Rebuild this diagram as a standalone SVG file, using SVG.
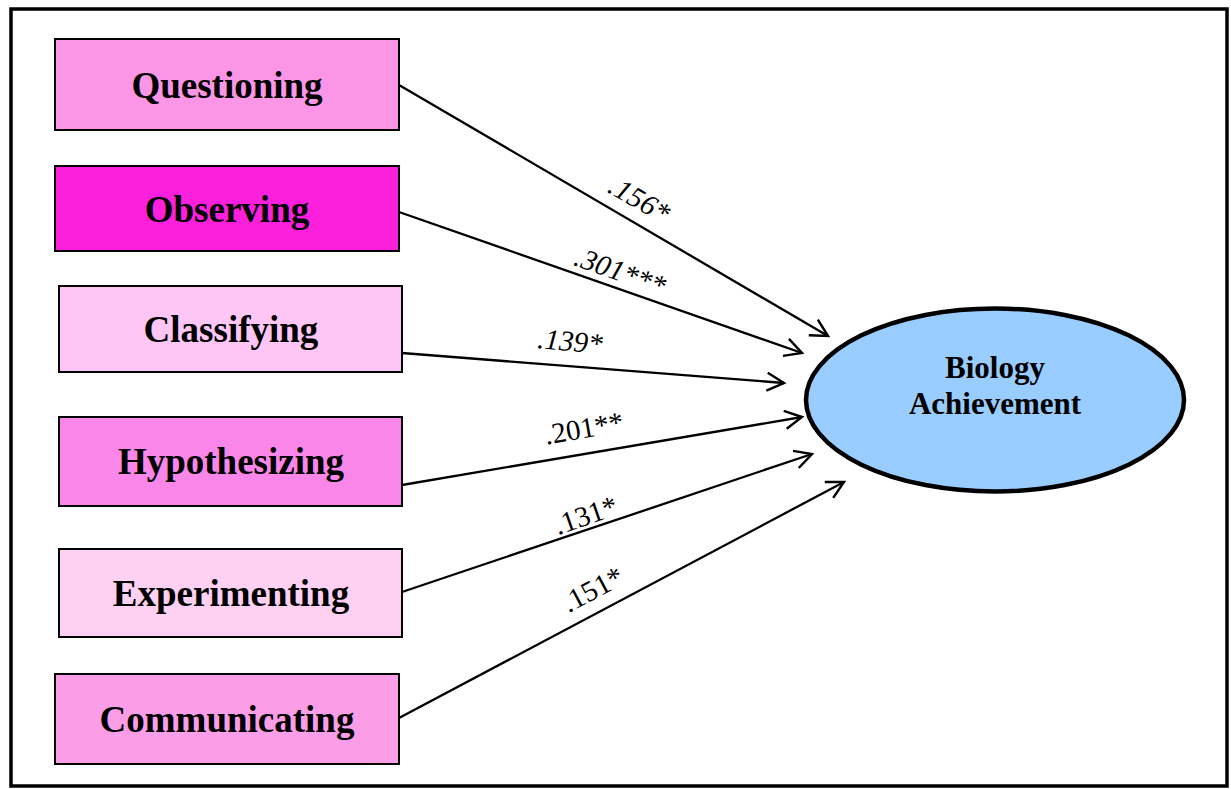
<svg xmlns="http://www.w3.org/2000/svg" width="1231" height="789" viewBox="0 0 1231 789">
<style>
.box{stroke:#000;stroke-width:2}
.bt{font-family:"Liberation Serif",serif;font-weight:bold;font-size:37px;text-anchor:middle}
.et{font-family:"Liberation Serif",serif;font-weight:bold;font-size:31px;text-anchor:middle}
.lab{font-family:"Liberation Serif",serif;font-size:29px;text-anchor:middle}
.it{font-style:italic}
.con line{stroke:#000;stroke-width:2.3;marker-end:url(#arr)}
</style>
<defs>
<marker id="arr" markerUnits="userSpaceOnUse" markerWidth="24" markerHeight="24" viewBox="-20 -12 24 24" refX="0" refY="0" orient="auto">
<path d="M-17,-9 L0,0 L-17,9" fill="none" stroke="#000" stroke-width="2.4"/>
</marker>
</defs>
<rect x="0" y="0" width="1231" height="789" fill="#fff"/>
<rect x="11" y="9" width="1216" height="777" fill="none" stroke="#000" stroke-width="3.5"/>
<g class="con">
<line x1="399" y1="85" x2="828" y2="336"/>
<line x1="399" y1="212" x2="802" y2="353"/>
<line x1="402" y1="353" x2="784" y2="383"/>
<line x1="402" y1="485" x2="802" y2="417"/>
<line x1="402" y1="592" x2="812" y2="454"/>
<line x1="399" y1="718" x2="844" y2="482"/>
<text class="lab it" transform="translate(639,200) rotate(30)" y="9">.156*</text>
<text class="lab it" transform="translate(620,272) rotate(19.5)" y="9">.301***</text>
<text class="lab it" transform="translate(570,342) rotate(5)" y="9">.139*</text>
<text class="lab" transform="translate(584,429) rotate(-10)" y="9">.201**</text>
<text class="lab" transform="translate(586,516) rotate(-19)" y="9">.131*</text>
<text class="lab" transform="translate(593,590) rotate(-28)" y="9">.151*</text>
</g>
<g id="questioning"><rect class="box" x="55" y="39" width="344" height="91" fill="#FB95E6"/><text class="bt" x="227" y="98">Questioning</text></g>
<g id="observing"><rect class="box" x="55" y="166" width="344" height="85" fill="#FC1FDB"/><text class="bt" x="227" y="222">Observing</text></g>
<g id="classifying"><rect class="box" x="59" y="286" width="343" height="86" fill="#FEC6F4"/><text class="bt" x="231" y="342">Classifying</text></g>
<g id="hypothesizing"><rect class="box" x="59" y="417" width="343" height="89" fill="#FB86EA"/><text class="bt" x="231" y="474">Hypothesizing</text></g>
<g id="experimenting"><rect class="box" x="59" y="549" width="343" height="88" fill="#FED1F3"/><text class="bt" x="231" y="606">Experimenting</text></g>
<g id="communicating"><rect class="box" x="55" y="674" width="344" height="90" fill="#FB9EE7"/><text class="bt" x="227" y="732">Communicating</text></g>
<g id="biology"><ellipse cx="995" cy="400" rx="189" ry="91.5" fill="#99CCFF" stroke="#000" stroke-width="4.5"/><text class="et" x="995" y="378">Biology</text><text class="et" x="995" y="414">Achievement</text></g>
</svg>
